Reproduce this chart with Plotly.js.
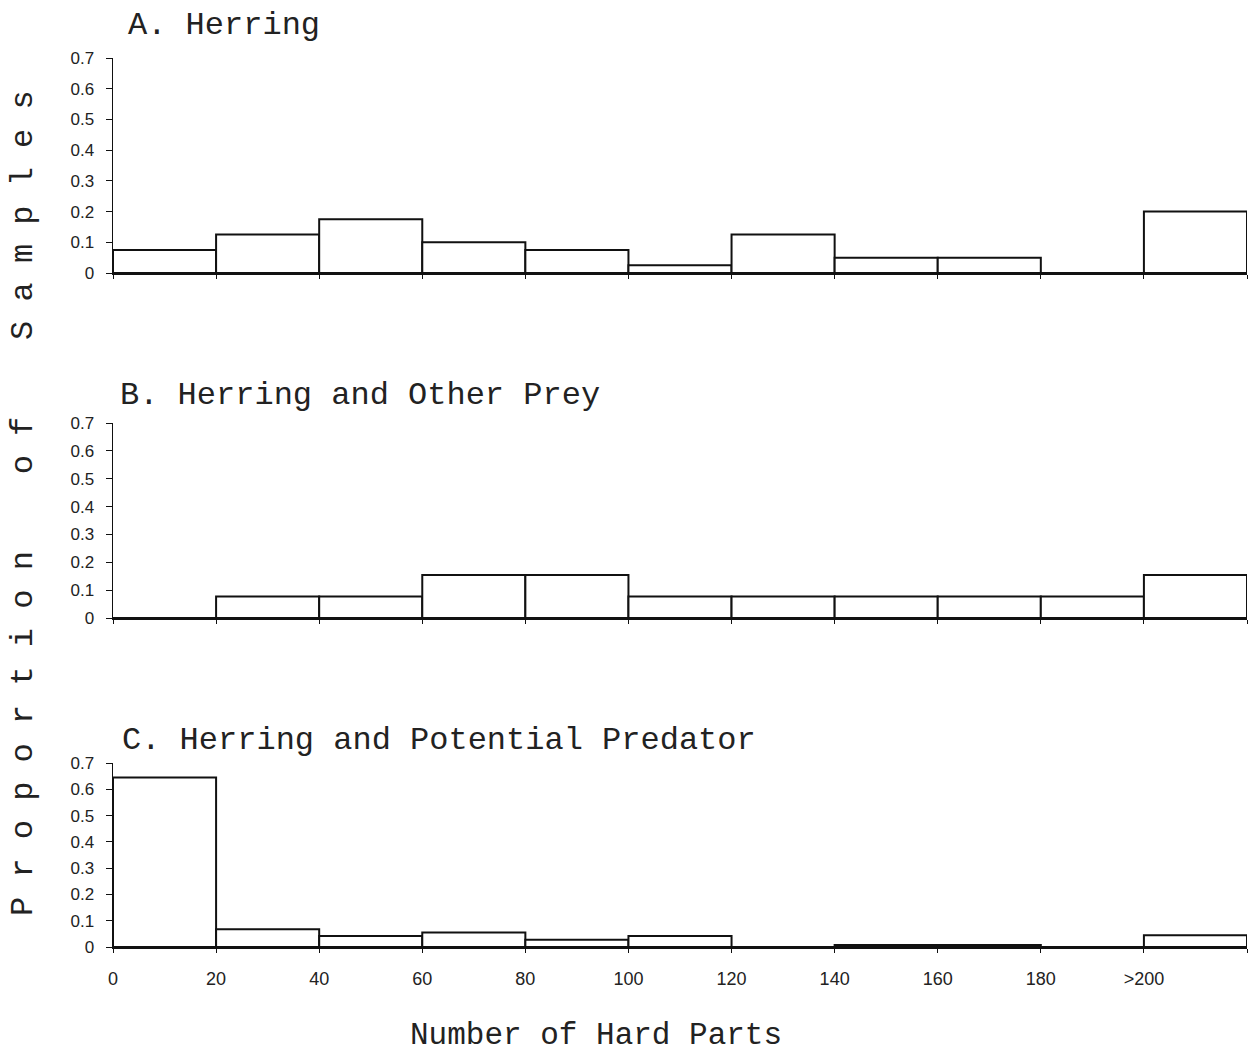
<!DOCTYPE html>
<html>
<head>
<meta charset="utf-8">
<script src="https://cdn.plot.ly/plotly-3.0.1.min.js"></script>
<style>
  html, body { margin: 0; padding: 0; background: #ffffff; }
  #chart { width: 1251px; height: 1055px; }
</style>
</head>
<body>
<div id="chart"></div>
<script>
// ---- data ----
const binStart = [0, 20, 40, 60, 80, 100, 120, 140, 160, 180, 200];
const tickVals = [0, 20, 40, 60, 80, 100, 120, 140, 160, 180, 200, 220];
const tickText = ["0", "20", "40", "60", "80", "100", "120", "140", "160", "180", ">200", ""];
const herring = [0.075, 0.125, 0.175, 0.1, 0.075, 0.025, 0.125, 0.05, 0.05, 0, 0.2];
const herringOtherPrey = [0, 0.077, 0.077, 0.154, 0.154, 0.077, 0.077, 0.077, 0.077, 0.077, 0.154];
const herringPredator = [0.645, 0.068, 0.042, 0.055, 0.028, 0.042, 0, 0.008, 0.008, 0, 0.045];
const panelTitles = ["A. Herring", "B. Herring and Other Prey", "C. Herring and Potential Predator"];
const xTitle = "Number of Hard Parts";

// ---- style ----
const W = 1251, H = 1055;
const ink = '#111111';
const mono = 'Liberation Mono, Courier New, monospace';
const sans = 'Liberation Sans, Arial, sans-serif';
const px = v => v / W;
const py = v => 1 - v / H;

function barTrace(vals, ax) {
  return {
    type: 'bar', x: binStart, y: vals, width: 20, offset: 0,
    xaxis: 'x' + ax, yaxis: 'y' + ax,
    marker: { color: '#ffffff', line: { color: ink, width: 2 } },
    hoverinfo: 'x+y'
  };
}

const xDomain = [px(113), px(1247)];
function xAxis(anchor, labels) {
  return {
    domain: xDomain, range: [0, 220], anchor: anchor,
    tickmode: 'array', tickvals: tickVals, ticktext: tickText,
    ticks: 'outside', ticklen: 4, tickwidth: 1, tickcolor: ink,
    showline: true, linecolor: ink, linewidth: 2,
    showgrid: false, zeroline: false,
    showticklabels: labels, ticklabelstandoff: 10,
    tickfont: { family: sans, size: 18, color: '#222' }
  };
}
function yAxis(anchor, top, bottom) {
  return {
    domain: [py(bottom), py(top)], range: [0, 0.7], anchor: anchor,
    tick0: 0, dtick: 0.1,
    ticks: 'outside', ticklen: 6, tickwidth: 1, tickcolor: ink,
    showline: true, linecolor: ink, linewidth: 1.5,
    showgrid: false, zeroline: false,
    ticklabelstandoff: 8,
    tickfont: { family: sans, size: 17, color: '#222' }
  };
}

const sp = '\u00A0';
const yLabel = ['P','r','o','p','o','r','t','i','o','n'].join(sp) + sp.repeat(4) +
               ['o','f'].join(sp) + sp.repeat(4) +
               ['S','a','m','p','l','e','s'].join(sp);

const data = [
  barTrace(herring, ''),
  barTrace(herringOtherPrey, '2'),
  barTrace(herringPredator, '3')
];
data[0].xaxis = 'x'; data[0].yaxis = 'y';

const layout = {
  width: W, height: H,
  margin: { l: 0, r: 0, t: 0, b: 0 },
  paper_bgcolor: '#ffffff', plot_bgcolor: '#ffffff',
  showlegend: false, bargap: 0,
  xaxis: xAxis('y', false),
  yaxis: yAxis('x', 58, 273),
  xaxis2: xAxis('y2', false),
  yaxis2: yAxis('x2', 423, 618),
  xaxis3: xAxis('y3', true),
  yaxis3: yAxis('x3', 763, 947),
  annotations: [
    { text: panelTitles[0], x: px(126), y: py(25), xref: 'paper', yref: 'paper',
      xanchor: 'left', yanchor: 'middle', showarrow: false,
      font: { family: mono, size: 32, color: '#222' } },
    { text: panelTitles[1], x: px(118), y: py(395), xref: 'paper', yref: 'paper',
      xanchor: 'left', yanchor: 'middle', showarrow: false,
      font: { family: mono, size: 32, color: '#222' } },
    { text: panelTitles[2], x: px(120), y: py(740), xref: 'paper', yref: 'paper',
      xanchor: 'left', yanchor: 'middle', showarrow: false,
      font: { family: mono, size: 32, color: '#222' } },
    { text: xTitle, x: px(596), y: py(1035), xref: 'paper', yref: 'paper',
      xanchor: 'center', yanchor: 'middle', showarrow: false,
      font: { family: mono, size: 31, color: '#222' } },
    { text: yLabel, x: px(24), y: py(503), xref: 'paper', yref: 'paper',
      xanchor: 'center', yanchor: 'middle', textangle: -90, showarrow: false,
      font: { family: mono, size: 32, color: '#222' } }
  ]
};

Plotly.newPlot('chart', data, layout, { displayModeBar: false, staticPlot: true });
</script>
</body>
</html>
